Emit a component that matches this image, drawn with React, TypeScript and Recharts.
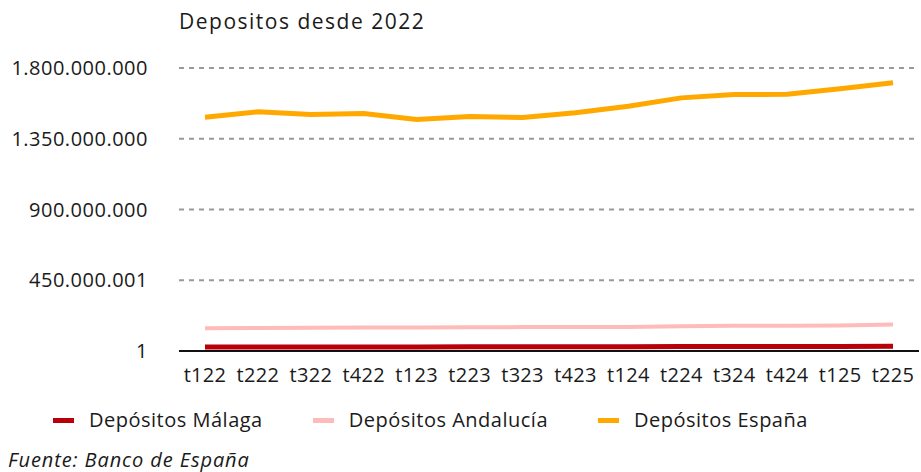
import React from 'react';
import { LineChart, Line, XAxis, YAxis, CartesianGrid } from 'recharts';

const categories = ['t122', 't222', 't322', 't422', 't123', 't223', 't323', 't423', 't124', 't224', 't324', 't424', 't125', 't225'];
const malaga = [25000000, 26000000, 26000000, 26000000, 26000000, 27000000, 27000000, 27000000, 27000000, 28000000, 28000000, 29000000, 29000000, 30000000];
const andalucia = [145000000, 147000000, 148000000, 150000000, 149000000, 151000000, 152000000, 152000000, 153000000, 157000000, 160000000, 161000000, 162000000, 168000000];
const espana = [1487000000, 1521000000, 1504000000, 1510000000, 1472000000, 1491000000, 1485000000, 1515000000, 1557000000, 1610000000, 1631000000, 1633000000, 1668000000, 1706000000];
const yTicks = [1, 450000001, 900000000, 1350000000, 1800000000];
const yTickLabels = ['1', '450.000.001', '900.000.000', '1.350.000.000', '1.800.000.000'];

const seriesInfo = [
  { key: 'malaga', name: 'Depósitos Málaga', color: '#B8000A', width: 5 },
  { key: 'andalucia', name: 'Depósitos Andalucía', color: '#FFBABA', width: 4 },
  { key: 'espana', name: 'Depósitos España', color: '#FFA800', width: 5 },
];

const data = categories.map((c, i) => ({
  cat: c,
  malaga: malaga[i],
  andalucia: andalucia[i],
  espana: espana[i],
}));

const FONT = '"Open Sans", "Noto Sans", sans-serif';

export default function App() {
  return (
    <div style={{ position: 'absolute', left: 0, top: 0, width: 921, height: 472, background: '#fff', fontFamily: FONT, color: '#1a1a1a' }}>
      <div style={{ position: 'absolute', left: 179, top: 7, fontSize: 21, lineHeight: '28px', letterSpacing: 1.5, whiteSpace: 'nowrap' }}>
        Depositos desde 2022
      </div>
      <LineChart width={921} height={472} data={data} margin={{ top: 68, right: 2, left: 0, bottom: 91 }}>
        <CartesianGrid vertical={false} stroke="#999" strokeDasharray="5 5" strokeWidth={2} />
        <XAxis
          dataKey="cat"
          height={30}
          padding={{ left: 26, right: 26 }}
          axisLine={{ stroke: '#111', strokeWidth: 2 }}
          tickLine={false}
          tickMargin={11}
          tick={{ fill: '#1a1a1a', fontSize: 20, fontFamily: FONT, letterSpacing: 0.3 }}
          interval={0}
        />
        <YAxis
          width={179}
          domain={[1, 1800000000]}
          ticks={yTicks}
          interval={0}
          axisLine={false}
          tickLine={false}
          tickMargin={25}
          tick={{ fill: '#1a1a1a', fontSize: 20, fontFamily: FONT, letterSpacing: 0.5 }}
          tickFormatter={(v: number) => yTickLabels[yTicks.indexOf(v)] ?? String(v)}
        />
        {seriesInfo.map((s) => (
          <Line
            key={s.key}
            dataKey={s.key}
            name={s.name}
            stroke={s.color}
            strokeWidth={s.width}
            dot={false}
            activeDot={false}
            isAnimationActive={false}
            type="linear"
          />
        ))}
      </LineChart>
      <div style={{ position: 'absolute', left: 53, top: 406, display: 'flex', alignItems: 'center', fontSize: 20, lineHeight: '28px', letterSpacing: 0.5, whiteSpace: 'nowrap' }}>
        {seriesInfo.map((s) => (
          <div key={s.key} style={{ display: 'flex', alignItems: 'center', marginRight: 50 }}>
            <div style={{ width: 21, height: 5, background: s.color, marginRight: 15 }} />
            <span>{s.name}</span>
          </div>
        ))}
      </div>
      <div style={{ position: 'absolute', left: 8, top: 446, fontSize: 20, lineHeight: '28px', letterSpacing: 0.9, fontStyle: 'italic', whiteSpace: 'nowrap' }}>
        Fuente: Banco de España
      </div>
    </div>
  );
}
